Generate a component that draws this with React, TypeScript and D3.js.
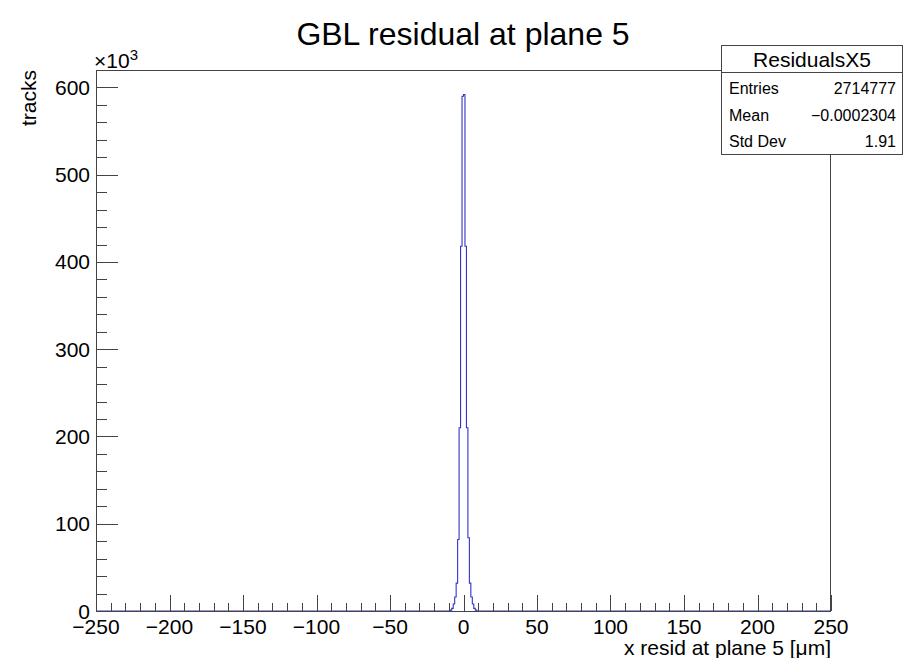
import React from "react";
import * as d3 from "d3";

const title = "GBL residual at plane 5";
const xTitle = "x resid at plane 5 [\u03bcm]";
const yTitle = "tracks";
const statsName = "ResidualsX5";
const statsLabels = ["Entries", "Mean", "Std Dev"];
const statsValues = ["2714777", "\u22120.0002304", "1.91"];

// bin low edges (1 µm bins) with non-zero content, and their counts
const peakBinLow = [-9, -8, -7, -6, -5, -4, -3, -2, -1, 0, 1, 2, 3, 4, 5, 6, 7, 8];
const peakCounts = [1000, 3000, 8000, 16000, 32000, 82000, 210000, 418000, 590000, 592000, 418000, 210000, 84000, 32000, 16000, 8000, 3000, 1000];

const xDomain = [-250, 250];
const yDomain = [0, 620000];
const xMajorTicks = [-250, -200, -150, -100, -50, 0, 50, 100, 150, 200, 250];
const yMajorTicks = [0, 100000, 200000, 300000, 400000, 500000, 600000];

const W = 913;
const H = 658;
const L = 96, R = 831, T = 70, B = 611;
const FONT = "'Liberation Sans', Arial, Helvetica, sans-serif";

export default function App() {
  const x = d3.scaleLinear().domain(xDomain).range([L, R]);
  const y = d3.scaleLinear().domain(yDomain).range([B, T]);

  // full histogram
  const edges = d3.range(xDomain[0], xDomain[1] + 1, 1);
  const counts = edges.slice(0, -1).map((e) => {
    const i = peakBinLow.indexOf(e);
    return i >= 0 ? peakCounts[i] : 0;
  });
  const pts: [number, number][] = counts.map((c, i) => [edges[i], c]);
  pts.push([xDomain[1], counts[counts.length - 1]]);
  const line = d3
    .line<[number, number]>()
    .x((d) => x(d[0]))
    .y((d) => y(d[1]))
    .curve(d3.curveStepAfter);
  const path = line(pts) || "";

  const xMinor = d3.range(-250, 251, 10).filter((v) => v % 50 !== 0);
  const yMinor = d3.range(0, 620001, 20000).filter((v) => v % 100000 !== 0);

  const axisColor = "#444";

  return (
    <svg
      width={W}
      height={H}
      style={{ position: "absolute", left: 0, top: 0, background: "#fff" }}
      fontFamily={FONT}
    >
      <rect x={0} y={0} width={W} height={H} fill="#fff" />
      {/* title */}
      <text x={463} y={45} fontSize={32} textAnchor="middle" fill="#000">
        {title}
      </text>

      {/* histogram */}
      <path d={path} fill="none" stroke="#3434c8" strokeWidth={1.1} />

      {/* frame */}
      <rect
        x={L + 0.5}
        y={T + 0.5}
        width={R - L - 1}
        height={B - T}
        fill="none"
        stroke={axisColor}
        strokeWidth={1}
      />

      {/* x ticks */}
      {xMajorTicks.map((v) => (
        <line key={"xM" + v} x1={Math.round(x(v)) + 0.5} x2={Math.round(x(v)) + 0.5} y1={B} y2={B - 16} stroke={axisColor} />
      ))}
      {xMinor.map((v) => (
        <line key={"xm" + v} x1={Math.round(x(v)) + 0.5} x2={Math.round(x(v)) + 0.5} y1={B} y2={B - 8} stroke={axisColor} />
      ))}
      {xMajorTicks.map((v) => (
        <text key={"xl" + v} x={x(v)} y={634} fontSize={21} textAnchor="middle" fill="#000">
          {v < 0 ? "\u2212" + Math.abs(v) : String(v)}
        </text>
      ))}

      {/* y ticks */}
      {yMajorTicks.map((v) => (
        <line key={"yM" + v} x1={L} x2={L + 22} y1={Math.round(y(v)) + 0.5} y2={Math.round(y(v)) + 0.5} stroke={axisColor} />
      ))}
      {yMinor.map((v) => (
        <line key={"ym" + v} x1={L} x2={L + 11} y1={Math.round(y(v)) + 0.5} y2={Math.round(y(v)) + 0.5} stroke={axisColor} />
      ))}
      {yMajorTicks.map((v) => (
        <text key={"yl" + v} x={90} y={y(v) + 7.5} fontSize={21} textAnchor="end" fill="#000">
          {String(v / 1000)}
        </text>
      ))}

      {/* exponent */}
      <text x={94} y={68} fontSize={21} fill="#000">
        {"\u00d710"}
        <tspan fontSize={15} dy={-8}>3</tspan>
      </text>

      {/* axis titles */}
      <text x={R} y={655} fontSize={21} textAnchor="end" fill="#000">
        {xTitle}
      </text>
      <text
        transform={`translate(36, ${T}) rotate(-90)`}
        fontSize={21}
        textAnchor="end"
        fill="#000"
      >
        {yTitle}
      </text>

      {/* stats box */}
      <rect x={721.5} y={45.5} width={181} height={109} fill="#fff" stroke={axisColor} />
      <line x1={721.5} x2={902.5} y1={72.5} y2={72.5} stroke={axisColor} />
      <text x={812} y={67} fontSize={21} textAnchor="middle" fill="#000">
        {statsName}
      </text>
      {statsLabels.map((lab, i) => (
        <g key={lab}>
          <text x={729} y={94 + i * 26.5} fontSize={16} fill="#000">
            {lab}
          </text>
          <text x={896} y={94 + i * 26.5} fontSize={16} textAnchor="end" fill="#000">
            {statsValues[i]}
          </text>
        </g>
      ))}
    </svg>
  );
}
